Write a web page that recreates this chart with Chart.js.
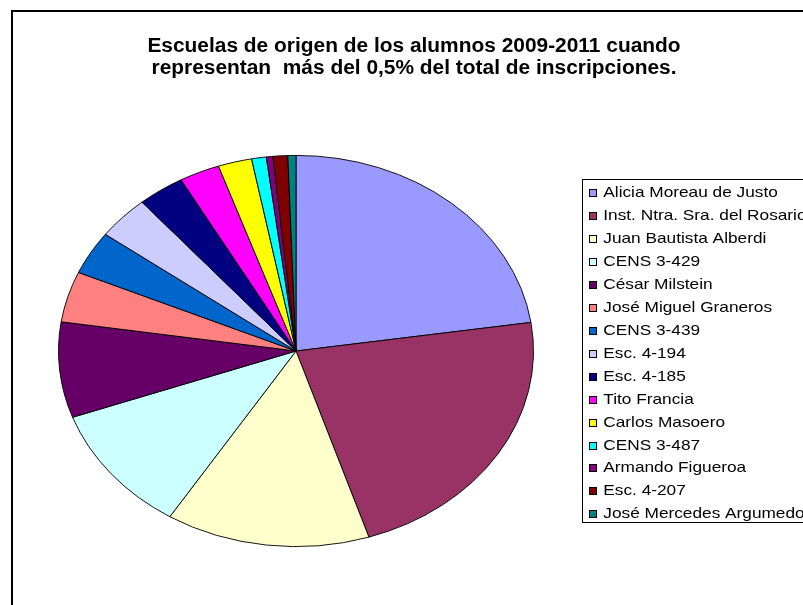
<!DOCTYPE html>
<html lang="es">
<head>
<meta charset="utf-8">
<title>Escuelas de origen de los alumnos 2009-2011</title>
<script src="https://cdn.jsdelivr.net/npm/chart.js@4.4.1/dist/chart.umd.min.js"></script>
<style>
  html, body { margin: 0; padding: 0; background: #fff; overflow: hidden; }
  #chartWrapper { position: relative; width: 803px; height: 605px; }
</style>
</head>
<body>
<div id="chartWrapper"><canvas id="schoolsChart" width="803" height="605"></canvas></div>
<script>
const titleLines = [
  'Escuelas de origen de los alumnos 2009-2011 cuando',
  'representan  más del 0,5% del total de inscripciones.',
];

const schools = [
  'Alicia Moreau de Justo',
  'Inst. Ntra. Sra. del Rosario',
  'Juan Bautista Alberdi',
  'CENS 3-429',
  'César Milstein',
  'José Miguel Graneros',
  'CENS 3-439',
  'Esc. 4-194',
  'Esc. 4-185',
  'Tito Francia',
  'Carlos Masoero',
  'CENS 3-487',
  'Armando Figueroa',
  'Esc. 4-207',
  'José Mercedes Argumedo',
];

// share of the pie
const shares = [22.7, 22.4, 13.9, 10.6, 7.9, 4.2, 3.6, 3.6, 3.2, 2.75, 2.3, 1.0, 0.45, 1.0, 0.55];

// old Excel pie palette
const sliceColors = [
  '#9999FF', '#993366', '#FFFFCC', '#CCFFFF', '#660066',
  '#FF8080', '#0066CC', '#CCCCFF', '#000080', '#FF00FF',
  '#FFFF00', '#00FFFF', '#800080', '#800000', '#008080',
];

const FONT = '"Liberation Sans", Arial, sans-serif';
const PIE_Y_SQUASH = 196 / 238; // the original plot area is not square -> elliptic pie

// squash the pie vertically around its centre
const ellipsePie = {
  id: 'ellipsePie',
  beforeDatasetsDraw(chart) {
    const { ctx, chartArea } = chart;
    const cy = (chartArea.top + chartArea.bottom) / 2;
    ctx.save();
    ctx.translate(0, cy);
    ctx.scale(1, PIE_Y_SQUASH);
    ctx.translate(0, -cy);
  },
  afterDatasetsDraw(chart) {
    chart.ctx.restore();
  },
};

// frame, title and boxed legend like the spreadsheet chart
const frameAndLegend = {
  id: 'frameAndLegend',
  afterDraw(chart) {
    const { ctx } = chart;
    ctx.save();

    ctx.strokeStyle = '#000';
    ctx.lineWidth = 2;
    ctx.strokeRect(12, 11, 900, 700); // runs off the right and bottom edges

    ctx.fillStyle = '#000';
    ctx.font = `bold 20px ${FONT}`;
    ctx.textAlign = 'center';
    ctx.textBaseline = 'alphabetic';
    titleLines.forEach((line, i) => {
      ctx.save();
      ctx.translate(414, 51.5 + i * 22);
      ctx.scale(1.045, 1);
      ctx.fillText(line, 0, 0);
      ctx.restore();
    });

    ctx.lineWidth = 1;
    ctx.strokeRect(582.5, 179.5, 400, 343);

    ctx.font = `15px ${FONT}`;
    ctx.textAlign = 'left';
    chart.data.labels.forEach((name, i) => {
      const baseline = 197.3 + i * 22.93;
      const boxTop = Math.round(baseline - 8) + 0.5;
      ctx.fillStyle = chart.data.datasets[0].backgroundColor[i];
      ctx.fillRect(589.5, boxTop, 7, 7);
      ctx.strokeRect(589.5, boxTop, 7, 7);
      ctx.fillStyle = '#000';
      ctx.save();
      ctx.translate(603.3, baseline);
      ctx.scale(1.15, 1);
      ctx.fillText(name, 0, 0);
      ctx.restore();
    });

    ctx.restore();
  },
};

const config = {
  type: 'pie',
  data: {
    labels: schools,
    datasets: [
      {
        data: shares,
        backgroundColor: sliceColors,
        borderColor: '#000',
        borderWidth: 1,
      },
    ],
  },
  options: {
    responsive: false,
    animation: false,
    events: [],
    layout: {
      padding: { left: 58, right: 269, top: 113, bottom: 16 },
    },
    plugins: {
      legend: { display: false },
      title: { display: false },
      tooltip: { enabled: false },
    },
  },
  plugins: [ellipsePie, frameAndLegend],
};

const chart = new Chart(document.querySelector('#schoolsChart'), config);
</script>
</body>
</html>
